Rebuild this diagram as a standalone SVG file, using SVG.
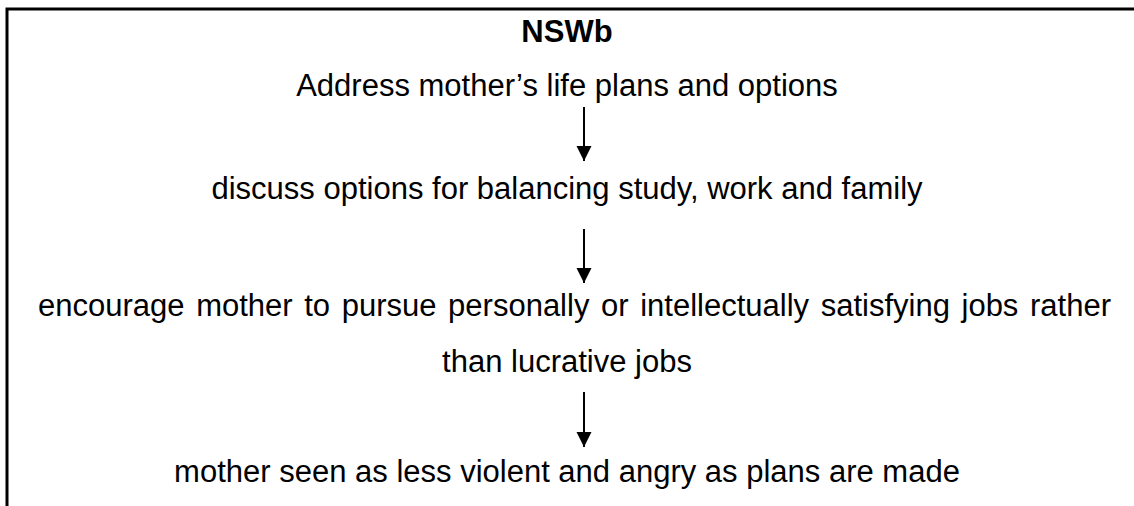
<svg xmlns="http://www.w3.org/2000/svg" width="1134" height="506" viewBox="0 0 1134 506">
<style>
.t{font-family:"Liberation Sans",Arial,sans-serif;font-size:31px;fill:#000;text-anchor:middle}
.b{font-weight:bold}
.ln{stroke:#000;stroke-width:2;fill:none}
.frame{stroke:#000;stroke-width:3;fill:none}
</style>
<defs>
<marker id="ah" markerUnits="userSpaceOnUse" markerWidth="16" markerHeight="16" refX="15" refY="7.5" orient="auto">
<path d="M0,0 L15,7.5 L0,15 Z" fill="#000"/>
</marker>
</defs>
<rect width="1134" height="506" fill="#fff"/>
<path class="frame" d="M7,506 L7,9 L1134,9"/>
<g id="title"><text class="t b" x="567" y="42">NSWb</text></g>
<g id="n1"><text class="t" x="567" y="96">Address mother’s life plans and options</text></g>
<g id="n2"><text class="t" x="567" y="199">discuss options for balancing study, work and family</text></g>
<g id="n3"><text class="t" x="574.5" y="316" word-spacing="3">encourage mother to pursue personally or intellectually satisfying jobs rather</text><text class="t" x="567" y="372">than lucrative jobs</text></g>
<g id="n4"><text class="t" x="567" y="482">mother seen as less violent and angry as plans are made</text></g>
<g id="connectors">
<line class="ln" x1="584" y1="107" x2="584" y2="161" marker-end="url(#ah)"/>
<line class="ln" x1="584" y1="229" x2="584" y2="283" marker-end="url(#ah)"/>
<line class="ln" x1="584" y1="392" x2="584" y2="447" marker-end="url(#ah)"/>
</g>
</svg>
